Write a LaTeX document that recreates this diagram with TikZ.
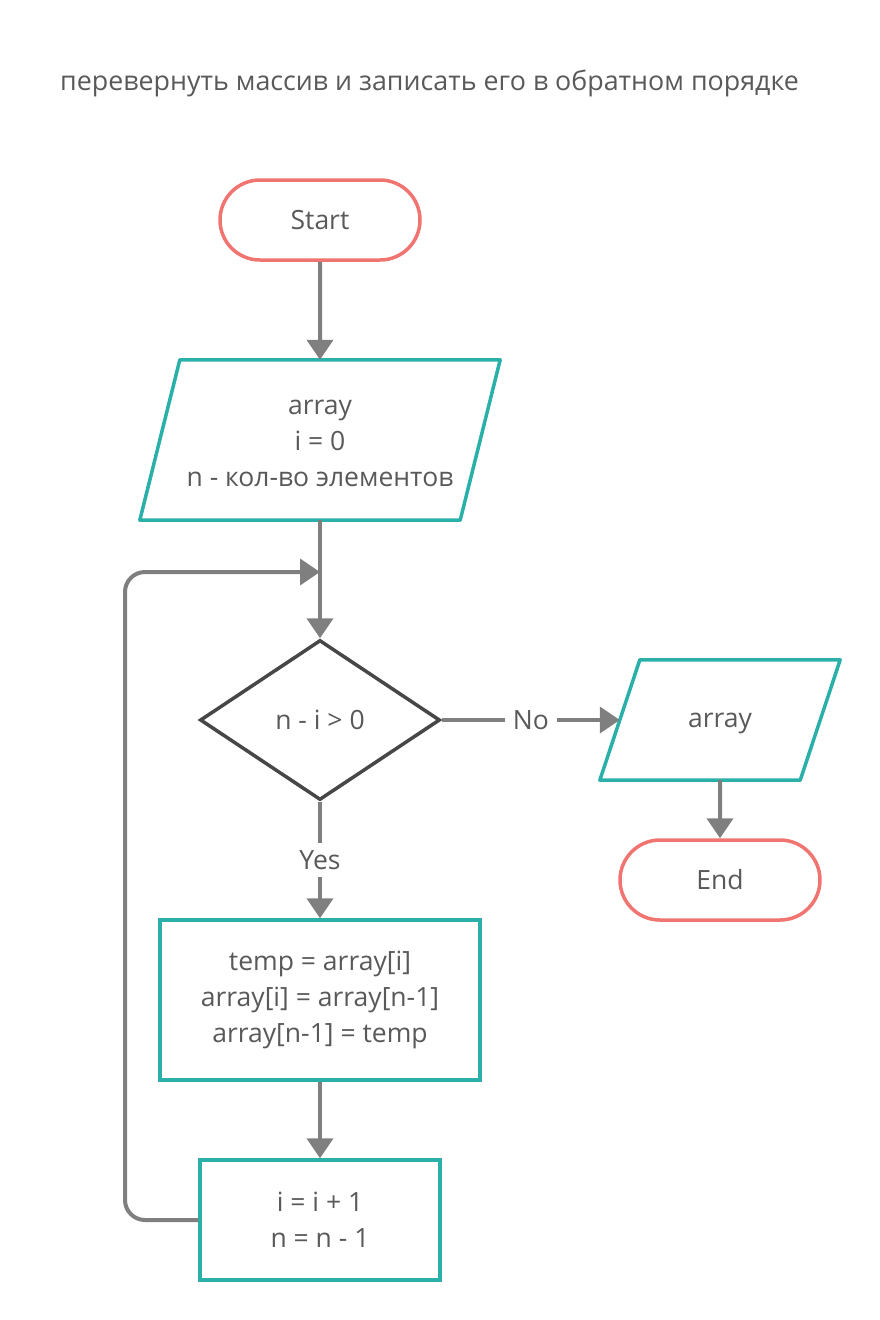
\documentclass[tikz,border=0pt]{standalone}
\usepackage{fontspec}
\setmainfont{Open Sans}
\usetikzlibrary{shapes.geometric,shapes.misc,arrows.meta,calc}
\definecolor{txt}{HTML}{595959}
\definecolor{teal}{HTML}{2AAFA9}
\definecolor{redc}{HTML}{F07470}
\definecolor{arr}{HTML}{7F7F7F}
\definecolor{dia}{HTML}{474747}
\tikzset{
  every node/.style={text=txt,font=\fontsize{26.5}{36}\selectfont,align=center},
  term/.style={draw=redc,line width=3.5pt,rounded rectangle,minimum width=200pt,minimum height=80pt,inner sep=0pt},
  procbox/.style={draw=teal,line width=3.5pt,rectangle,inner sep=0pt},
  iobox/.style={rectangle,inner sep=0pt},
  decide/.style={draw=dia,line width=3.5pt,diamond,minimum width=240pt,minimum height=160pt,inner sep=0pt},
  conn/.style={draw=arr,line width=4pt,-{Triangle[length=20pt,width=26pt]}},
  lbl/.style={fill=white,inner sep=7pt},
}
\begin{document}
\begin{tikzpicture}[x=1pt,y=-1pt]
\useasboundingbox (0,0) rectangle (880,1320);
\node[anchor=west,inner sep=0pt,font=\fontsize{26.8}{36}\selectfont] (title) at (60,83) {перевернуть массив и записать его в обратном порядке};
\node[term] (start) at (320,220) {Start};
\node[iobox,minimum width=320pt,minimum height=160pt] (in) at (320,443) {array\\i = 0\\n - кол-во элементов};
\draw[teal,line width=3.5pt,line join=round] ($(in.north west)+(20,-3)$) -- ($(in.north east)+(20,-3)$) -- ($(in.south east)+(-20,-3)$) -- ($(in.south west)+(-20,-3)$) -- cycle;
\node[decide] (cond) at (320,720) {n - i > 0};
\node[iobox,minimum width=200pt,minimum height=120pt] (out) at (720,723) {array};
\draw[teal,line width=3.5pt,line join=round] ($(out.north west)+(20,-3)$) -- ($(out.north east)+(20,-3)$) -- ($(out.south east)+(-20,-3)$) -- ($(out.south west)+(-20,-3)$) -- cycle;
\node[term] (end) at (720,880) {End};
\node[procbox,minimum width=320pt,minimum height=160pt] (swap) at (320,1000) {temp = array[i]\\array[i] = array[n-1]\\array[n-1] = temp};
\node[procbox,minimum width=240pt,minimum height=120pt] (incr) at (320,1220) {i = i + 1\\n = n - 1};
\coordinate (loopin) at (320,572);
\coordinate (loopbl) at (125,1220);
\coordinate (looptl) at (125,572);
\coordinate (inbot) at ($(in.south)+(0,-3)$);
\coordinate (intop) at ($(in.north)+(0,-3)$);
\coordinate (outbot) at ($(out.south)+(0,-3)$);
\coordinate (outleft) at ($(out.west)+(0,-3)$);
\draw[conn] (start) -- (intop);
\draw[conn] (inbot) -- (cond);
\draw[conn] (cond.east) -- node[lbl,pos=0.5,inner sep=8pt] {No} (outleft);
\draw[conn] (cond.south) -- node[lbl,pos=0.5] {Yes} (swap.north);
\draw[conn] (outbot) -- (end);
\draw[conn] (swap) -- (incr);
\draw[conn,rounded corners=20pt] (incr.west) -- (loopbl) -- (looptl) -- (loopin);
\end{tikzpicture}
\end{document}
